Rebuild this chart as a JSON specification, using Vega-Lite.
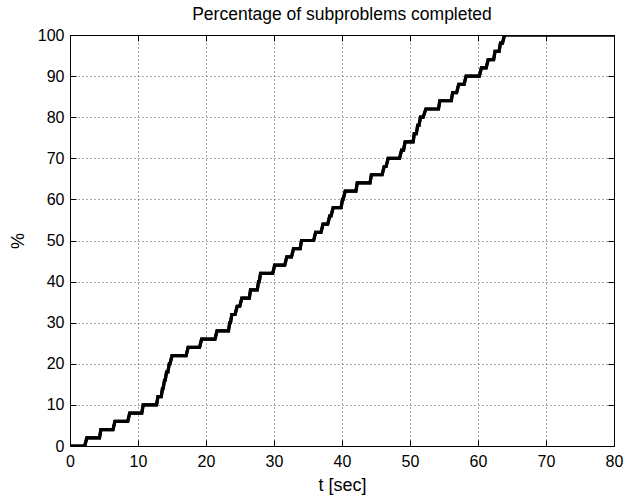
{
  "$schema": "https://vega.github.io/schema/vega-lite/v6.json",
  "autosize": {"type": "none"},
  "width": 544,
  "height": 411,
  "padding": {"left": 70, "top": 35, "right": 13, "bottom": 54},
  "background": "white",
  "title": {
    "text": "Percentage of subproblems completed",
    "font": "Liberation Sans",
    "fontSize": 17.5,
    "fontWeight": "normal",
    "color": "black",
    "offset": 4
  },
  "config": {
    "view": {"stroke": null},
    "axis": {
      "labelFont": "Liberation Sans",
      "labelFontSize": 16,
      "labelColor": "black",
      "titleFont": "Liberation Sans",
      "titleFontSize": 18,
      "titleFontWeight": "normal",
      "titleColor": "black",
      "domainColor": "black",
      "domainWidth": 1,
      "tickColor": "black",
      "tickSize": -6,
      "tickWidth": 1
    }
  },
  "data": {
    "values": [
      {"t": 0, "pct": 0}, {"t": 2.17, "pct": 0},
      {"t": 2.47, "pct": 2}, {"t": 4.34, "pct": 2},
      {"t": 4.54, "pct": 4}, {"t": 6.32, "pct": 4},
      {"t": 6.61, "pct": 6}, {"t": 8.49, "pct": 6},
      {"t": 8.78, "pct": 8}, {"t": 10.56, "pct": 8},
      {"t": 10.76, "pct": 10}, {"t": 12.73, "pct": 10},
      {"t": 12.93, "pct": 12}, {"t": 13.42, "pct": 12},
      {"t": 13.6, "pct": 14}, {"t": 13.7, "pct": 14},
      {"t": 13.9, "pct": 16}, {"t": 14.0, "pct": 16},
      {"t": 14.2, "pct": 18}, {"t": 14.4, "pct": 18},
      {"t": 14.6, "pct": 20}, {"t": 14.7, "pct": 20},
      {"t": 15.0, "pct": 22}, {"t": 17.08, "pct": 22},
      {"t": 17.37, "pct": 24}, {"t": 19.05, "pct": 24},
      {"t": 19.35, "pct": 26}, {"t": 21.32, "pct": 26},
      {"t": 21.62, "pct": 28}, {"t": 23.3, "pct": 28},
      {"t": 23.5, "pct": 30}, {"t": 23.6, "pct": 30},
      {"t": 23.8, "pct": 32}, {"t": 24.28, "pct": 32},
      {"t": 24.58, "pct": 34}, {"t": 24.97, "pct": 34},
      {"t": 25.27, "pct": 36}, {"t": 26.37, "pct": 36},
      {"t": 26.55, "pct": 38}, {"t": 27.54, "pct": 38},
      {"t": 27.73, "pct": 40}, {"t": 27.83, "pct": 40},
      {"t": 28.03, "pct": 42}, {"t": 29.81, "pct": 42},
      {"t": 30.1, "pct": 44}, {"t": 31.58, "pct": 44},
      {"t": 31.88, "pct": 46}, {"t": 32.57, "pct": 46},
      {"t": 32.87, "pct": 48}, {"t": 33.85, "pct": 48},
      {"t": 34.05, "pct": 50}, {"t": 35.83, "pct": 50},
      {"t": 36.12, "pct": 52}, {"t": 36.91, "pct": 52},
      {"t": 37.21, "pct": 54}, {"t": 37.9, "pct": 54},
      {"t": 38.2, "pct": 56}, {"t": 38.4, "pct": 56},
      {"t": 38.7, "pct": 58}, {"t": 39.87, "pct": 58},
      {"t": 40.07, "pct": 60}, {"t": 40.17, "pct": 60},
      {"t": 40.47, "pct": 62}, {"t": 42.05, "pct": 62},
      {"t": 42.24, "pct": 64}, {"t": 44.12, "pct": 64},
      {"t": 44.32, "pct": 66}, {"t": 45.9, "pct": 66},
      {"t": 46.2, "pct": 68}, {"t": 46.49, "pct": 68},
      {"t": 46.78, "pct": 70}, {"t": 48.46, "pct": 70},
      {"t": 48.76, "pct": 72}, {"t": 49.05, "pct": 72},
      {"t": 49.28, "pct": 74}, {"t": 50.46, "pct": 74},
      {"t": 50.63, "pct": 76}, {"t": 50.93, "pct": 76},
      {"t": 51.13, "pct": 78}, {"t": 51.33, "pct": 78},
      {"t": 51.53, "pct": 80}, {"t": 51.93, "pct": 80},
      {"t": 52.33, "pct": 82}, {"t": 54.19, "pct": 82},
      {"t": 54.39, "pct": 84}, {"t": 56.07, "pct": 84},
      {"t": 56.27, "pct": 86}, {"t": 56.86, "pct": 86},
      {"t": 57.16, "pct": 88}, {"t": 57.95, "pct": 88},
      {"t": 58.25, "pct": 90}, {"t": 60.2, "pct": 90},
      {"t": 60.5, "pct": 92}, {"t": 61.2, "pct": 92},
      {"t": 61.5, "pct": 94}, {"t": 62.3, "pct": 94},
      {"t": 62.5, "pct": 96}, {"t": 63.1, "pct": 96},
      {"t": 63.3, "pct": 98}, {"t": 63.6, "pct": 98},
      {"t": 63.9, "pct": 100}, {"t": 80, "pct": 100}
    ]
  },
  "encoding": {
    "x": {"field": "t", "type": "quantitative", "scale": {"domain": [0, 80], "nice": false, "zero": false}},
    "y": {"field": "pct", "type": "quantitative", "scale": {"domain": [0, 100], "nice": false}}
  },
  "layer": [
    {
      "mark": {"type": "line", "color": "black", "strokeWidth": 3.2, "clip": true},
      "encoding": {
        "x": {"field": "t", "type": "quantitative",
          "axis": {"orient": "bottom", "title": "t [sec]", "values": [0,10,20,30,40,50,60,70,80],
            "grid": true, "gridColor": "#555", "gridDash": [1, 3], "gridWidth": 1,
            "labelPadding": 13, "titlePadding": 7, "labelFlush": false}},
        "y": {"field": "pct", "type": "quantitative",
          "axis": {"orient": "left", "title": "%", "values": [0,10,20,30,40,50,60,70,80,90,100],
            "grid": true, "gridColor": "#555", "gridDash": [1, 3], "gridWidth": 1,
            "labelPadding": 12, "titlePadding": 10, "labelFlush": false}}
      }
    },
    {
      "mark": {"type": "line", "color": "black", "strokeWidth": 3.2, "clip": true},
      "encoding": {
        "x": {"field": "t", "type": "quantitative",
          "axis": {"orient": "top", "title": null, "labels": false, "grid": false,
            "values": [0,10,20,30,40,50,60,70,80]}},
        "y": {"field": "pct", "type": "quantitative",
          "axis": {"orient": "right", "title": null, "labels": false, "grid": false,
            "values": [0,10,20,30,40,50,60,70,80,90,100]}}
      }
    }
  ],
  "resolve": {"axis": {"x": "independent", "y": "independent"}}
}
